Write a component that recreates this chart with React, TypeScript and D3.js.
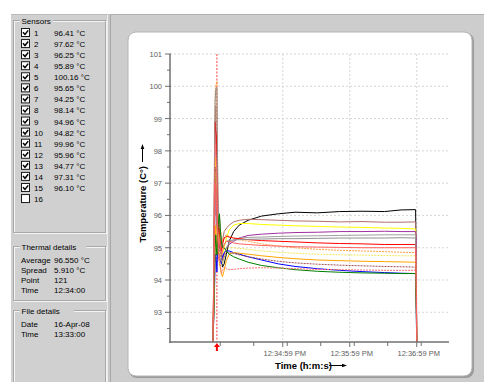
import React, { useEffect } from "react";
import * as d3 from "d3";

// seconds after 12:33:00
const times = [56.5, 57.2, 57.8, 58.4, 59.0, 59.5, 60.0, 60.5, 61.0, 61.6, 62.3, 63.0, 64.0, 65.0, 66.5, 68.5, 71, 75, 80, 88, 100, 115, 130, 150, 170, 190, 210, 225, 238, 238.6, 239.0];

const s1 = [92.1, 93.5, 95.8, 97.2, 96.9, 96.0, 96.41, 95.6, 95.0, 95.5, 95.8, 95.2, 94.7, 94.4, 94.5, 94.8, 95.2, 95.5, 95.7, 95.85, 95.98, 96.05, 96.1, 96.08, 96.12, 96.13, 96.12, 96.17, 96.18, 94.0, 92.0];
const s2 = [92.1, 94.0, 96.5, 98.8, 99.4, 98.3, 97.62, 96.4, 95.6, 96.0, 95.9, 95.3, 95.0, 95.2, 95.5, 95.6, 95.7, 95.8, 95.85, 95.88, 95.87, 95.85, 95.83, 95.82, 95.8, 95.81, 95.79, 95.79, 95.8, 94.5, 92.0];
const s3 = [92.1, 93.8, 96.2, 97.8, 97.0, 96.4, 96.25, 95.9, 95.4, 95.2, 95.6, 95.5, 95.1, 94.8, 95.0, 95.3, 95.55, 95.7, 95.75, 95.75, 95.72, 95.7, 95.68, 95.66, 95.64, 95.63, 95.61, 95.6, 95.58, 94.0, 92.0];
const s4 = [92.1, 93.2, 95.0, 96.5, 96.3, 96.0, 95.89, 95.5, 95.1, 94.8, 95.0, 95.2, 94.9, 94.7, 94.8, 95.0, 95.1, 95.2, 95.3, 95.38, 95.42, 95.45, 95.47, 95.48, 95.5, 95.5, 95.51, 95.5, 95.5, 95.3, 92.0];
const s5 = [92.1, 94.5, 97.8, 99.8, 100.0, 100.1, 100.16, 98.0, 96.5, 95.5, 96.0, 95.6, 95.4, 95.2, 95.3, 95.4, 95.35, 95.3, 95.25, 95.2, 95.12, 95.05, 95.0, 94.95, 94.92, 94.9, 94.88, 94.86, 94.85, 93.5, 92.0];
const s6 = [92.1, 93.0, 94.8, 96.4, 96.8, 96.0, 95.65, 95.3, 94.9, 95.1, 95.3, 94.9, 94.6, 94.5, 94.7, 95.0, 95.15, 95.25, 95.3, 95.32, 95.33, 95.35, 95.36, 95.37, 95.38, 95.39, 95.4, 95.4, 95.4, 94.0, 92.0];
const s7 = [92.1, 92.8, 93.6, 94.5, 94.8, 94.6, 94.25, 94.8, 95.1, 94.9, 94.7, 94.6, 94.5, 94.7, 94.85, 94.9, 94.9, 94.85, 94.8, 94.72, 94.62, 94.5, 94.42, 94.35, 94.3, 94.26, 94.23, 94.21, 94.2, 93.0, 92.0];
const s8 = [92.1, 94.2, 97.0, 98.9, 98.6, 98.5, 98.14, 97.0, 96.0, 95.4, 95.6, 95.2, 94.9, 95.1, 95.3, 95.35, 95.33, 95.3, 95.28, 95.25, 95.22, 95.2, 95.18, 95.15, 95.13, 95.12, 95.1, 95.1, 95.1, 94.0, 92.0];
const s9 = [92.1, 93.0, 94.2, 95.4, 95.6, 95.2, 94.96, 95.2, 95.5, 95.0, 94.8, 94.9, 94.7, 94.5, 94.7, 94.95, 95.0, 95.0, 94.98, 94.95, 94.9, 94.86, 94.83, 94.8, 94.78, 94.77, 94.76, 94.75, 94.75, 93.5, 92.0];
const s10 = [92.1, 92.9, 94.0, 95.3, 95.7, 95.1, 94.82, 95.0, 95.3, 94.8, 94.5, 94.4, 94.2, 94.1, 94.3, 94.6, 94.8, 94.85, 94.83, 94.8, 94.75, 94.7, 94.66, 94.62, 94.6, 94.58, 94.57, 94.56, 94.55, 93.5, 92.0];
const s11 = [92.1, 94.3, 97.5, 99.5, 99.9, 99.96, 99.96, 98.0, 96.6, 95.8, 96.0, 95.5, 95.2, 95.0, 95.1, 95.2, 95.22, 95.24, 95.25, 95.26, 95.27, 95.28, 95.28, 95.29, 95.3, 95.3, 95.3, 95.31, 95.3, 94.0, 92.0];
const s12 = [92.1, 93.6, 95.9, 97.5, 97.3, 96.4, 95.96, 95.5, 95.0, 94.8, 95.1, 95.0, 94.7, 94.6, 94.75, 94.85, 94.85, 94.82, 94.78, 94.72, 94.65, 94.58, 94.53, 94.49, 94.46, 94.44, 94.42, 94.41, 94.4, 93.5, 92.0];
const s13 = [92.1, 92.9, 94.0, 95.0, 95.4, 95.0, 94.77, 95.2, 95.6, 95.9, 96.05, 95.6, 95.2, 95.0, 95.0, 94.9, 94.8, 94.72, 94.65, 94.55, 94.45, 94.38, 94.32, 94.27, 94.24, 94.22, 94.21, 94.2, 94.2, 93.0, 92.0];
const s14 = [92.1, 93.8, 96.5, 98.2, 97.9, 97.6, 97.31, 96.2, 95.3, 94.6, 94.8, 94.5, 94.2, 94.3, 94.4, 94.35, 94.32, 94.33, 94.35, 94.37, 94.38, 94.37, 94.35, 94.33, 94.32, 94.31, 94.3, 94.3, 94.3, 93.5, 92.0];
const s15 = [92.1, 93.5, 95.6, 97.0, 96.8, 96.4, 96.1, 95.6, 95.2, 95.0, 95.3, 95.1, 94.8, 94.9, 95.1, 95.2, 95.2, 95.15, 95.12, 95.1, 95.07, 95.05, 95.03, 95.02, 95.01, 95.0, 95.0, 95.0, 95.0, 93.8, 92.0];

const seriesValues = [s1, s2, s3, s4, s5, s6, s7, s8, s9, s10, s11, s12, s13, s14, s15];
const seriesColors = ["#000000", "#b07070", "#ffff00", "#a030a0", "#ffa040", "#a0a0a0", "#0000ff", "#ff0000", "#f0e860", "#ffa500", "#909090", "#a05050", "#008000", "#ff7070", "#ff6060"];
const seriesDashed = [false, false, false, false, true, false, false, false, true, false, false, true, false, true, false];

const sensorIds = [1, 2, 3, 4, 5, 6, 7, 8, 9, 10, 11, 12, 13, 14, 15, 16];
const sensorReadings = [96.41, 97.62, 96.25, 95.89, 100.16, 95.65, 94.25, 98.14, 94.96, 94.82, 99.96, 95.96, 94.77, 97.31, 96.10, null];

const yTicks = [93, 94, 95, 96, 97, 98, 99, 100, 101];
const yMinorTicks = [92.5, 93.5, 94.5, 95.5, 96.5, 97.5, 98.5, 99.5, 100.5];
const xTickTimes = [119, 179, 239];
const xTickLabels = ["12:34:59 PM", "12:35:59 PM", "12:36:59 PM"];
const xMinorTimes = [63, 93, 123, 153, 183, 213, 243];
const cursorTime = 60;

const thermalLabels = ["Average", "Spread", "Point", "Time"];
const thermalValues = ["96.550 °C", "5.910 °C", "121", "12:34:00"];
const fileLabels = ["Date", "Time"];
const fileValues = ["16-Apr-08", "13:33:00"];

const FONT = "'Liberation Sans', Arial, sans-serif";

function GroupBox({ x, y, w, h, label }: { x: number; y: number; w: number; h: number; label: string }) {
  return (
    <g>
      <rect x={x + 1} y={y + 1} width={w} height={h} fill="none" stroke="#f4f4f4" />
      <rect x={x} y={y} width={w} height={h} fill="none" stroke="#a8a8a8" />
      <rect x={x + 6} y={y - 4} width={label.length * 4.2 + 4} height={8} fill="#d0d0d0" />
      <text x={x + 8} y={y + 3} fontSize={8} fontFamily={FONT} fill="#000">{label}</text>
    </g>
  );
}

export default function App() {
  useEffect(() => {
    document.body.style.margin = "0";
  }, []);

  const x = d3.scaleLinear().domain([18, 267]).range([170, 448]);
  const y = d3.scaleLinear().domain([92.08, 101]).range([342, 54]);
  const line = d3.line<number>().x((_, i) => x(times[i])).y((d) => y(d));

  const rowY = (i: number) => 33 + i * 11.07;

  return (
    <svg width={484} height={382} style={{ position: "absolute", left: 0, top: 0, display: "block" }}>
      <rect x={0} y={0} width={484} height={382} fill="#ffffff" />
      {/* left panel */}
      <rect x={11} y={14} width={97} height={368} fill="#d0d0d0" />
      <line x1={107.5} y1={14} x2={107.5} y2={382} stroke="#ececec" />
      <rect x={108} y={14} width={3} height={368} fill="#c8c8c8" />
      <line x1={110.5} y1={14} x2={110.5} y2={382} stroke="#a8a8a8" />
      {/* right area */}
      <rect x={111} y={14} width={373} height={368} fill="#cdcdcd" />
      <line x1={111} y1={14.5} x2={484} y2={14.5} stroke="#b0b0b0" />
      <line x1={11} y1={14.5} x2={108} y2={14.5} stroke="#bcbcbc" />

      {/* sensors */}
      <GroupBox x={13.5} y={20.5} w={92} h={212} label="Sensors" />
      {sensorIds.map((id, i) => {
        const cy = rowY(i);
        const val = sensorReadings[i];
        return (
          <g key={id}>
            <rect x={21.5} y={cy - 4.5} width={8} height={8} fill="#ffffff" stroke="#1a1a1a" strokeWidth={1} />
            {val !== null && (
              <path d={`M23,${cy - 0.8} L25,${cy + 1.4} L28.2,${cy - 2.6}`} fill="none" stroke="#000" strokeWidth={1.5} />
            )}
            <text x={34} y={cy + 3} fontSize={8} fontFamily={FONT} fill="#000">{id}</text>
            {val !== null && (
              <text x={54} y={cy + 3} fontSize={8} fontFamily={FONT} fill="#000">{val.toFixed(2)} °C</text>
            )}
          </g>
        );
      })}

      <GroupBox x={13.5} y={246.5} w={92} h={54} label="Thermal details" />
      {thermalLabels.map((lab, i) => (
        <g key={lab}>
          <text x={21} y={263 + i * 10} fontSize={8} fontFamily={FONT} fill="#000">{lab}</text>
          <text x={54} y={263 + i * 10} fontSize={8} fontFamily={FONT} fill="#000">{thermalValues[i]}</text>
        </g>
      ))}

      <GroupBox x={13.5} y={310.5} w={92} h={80} label="File details" />
      {fileLabels.map((lab, i) => (
        <g key={lab}>
          <text x={21} y={327 + i * 10} fontSize={8} fontFamily={FONT} fill="#000">{lab}</text>
          <text x={54} y={327 + i * 10} fontSize={8} fontFamily={FONT} fill="#000">{fileValues[i]}</text>
        </g>
      ))}

      {/* chart panel */}
      <rect x={129} y={33} width={345} height={345} rx={8} fill="#9a9a9a" />
      <rect x={128} y={32} width={344} height={344} rx={8} fill="#ffffff" stroke="#b4b4b4" />

      <defs>
        <clipPath id="plotclip">
          <rect x={170} y={40} width={278} height={302} />
        </clipPath>
      </defs>

      {/* grid */}
      {yTicks.map((t) => (
        <line key={`gy${t}`} x1={170} x2={448} y1={y(t)} y2={y(t)} stroke="#d6d6d6" strokeDasharray="2,2" />
      ))}
      {xTickTimes.map((t) => (
        <line key={`gx${t}`} x1={x(t)} x2={x(t)} y1={54} y2={342} stroke="#d6d6d6" strokeDasharray="2,2" />
      ))}

      {/* cursor */}
      <line x1={x(cursorTime)} x2={x(cursorTime)} y1={54} y2={342} stroke="#ff4040" strokeDasharray="2,1.5" />

      {/* series */}
      <g clipPath="url(#plotclip)">
        {seriesValues.map((vals, i) => (
          <path
            key={i}
            d={line(vals) || ""}
            fill="none"
            stroke={seriesColors[i]}
            strokeWidth={1}
            strokeDasharray={seriesDashed[i] ? "2,1" : undefined}
          />
        ))}
      </g>

      {/* axes */}
      <line x1={170} x2={170} y1={54} y2={343} stroke="#707070" strokeWidth={1.5} />
      <line x1={169} x2={449} y1={342} y2={342} stroke="#707070" strokeWidth={1.5} />
      {yTicks.map((t) => (
        <g key={`yt${t}`}>
          <line x1={165} x2={171} y1={y(t)} y2={y(t)} stroke="#707070" />
          <text x={162} y={y(t) + 3} fontSize={7.5} fontFamily={FONT} fill="#606060" textAnchor="end">{t}</text>
        </g>
      ))}
      {yMinorTicks.map((t) => (
        <line key={`ym${t}`} x1={167} x2={170} y1={y(t)} y2={y(t)} stroke="#707070" />
      ))}
      {xTickTimes.map((t, i) => (
        <g key={`xt${t}`}>
          <line x1={x(t)} x2={x(t)} y1={342} y2={347} stroke="#707070" />
          <text x={x(t) + 2} y={356} fontSize={7.5} fontFamily={FONT} fill="#606060" textAnchor="middle">{xTickLabels[i]}</text>
        </g>
      ))}
      {xMinorTimes.map((t) => (
        <line key={`xm${t}`} x1={x(t)} x2={x(t)} y1={342} y2={346} stroke="#707070" />
      ))}

      {/* cursor marker */}
      <path
        d={`M${x(cursorTime)},${343} l-3,4 h2 v4 h2 v-4 h2 z`}
        fill="#ff0000"
      />

      {/* axis titles */}
      <g transform={`translate(146,166) rotate(-90)`}>
        <text x={0} y={0} fontSize={9.5} fontWeight="bold" fontFamily={FONT} fill="#000" textAnchor="end">Temperature (C°)</text>
        <line x1={4} x2={19} y1={-3.5} y2={-3.5} stroke="#000" />
        <path d="M22,-3.5 l-5,-1.8 v3.6 z" fill="#000" />
      </g>
      <text x={275} y={369} fontSize={9.5} fontWeight="bold" fontFamily={FONT} fill="#000">Time (h:m:s)</text>
      <line x1={329} x2={344} y1={365.5} y2={365.5} stroke="#000" />
      <path d="M347,365.5 l-5,-1.8 v3.6 z" fill="#000" />
    </svg>
  );
}
